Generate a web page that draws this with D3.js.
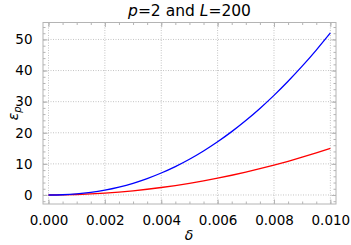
<!DOCTYPE html>
<html><head><meta charset="utf-8">
<script src="https://cdn.jsdelivr.net/npm/d3@7"></script>
<style>
body{margin:0;background:#fff;}
svg{display:block;font-family:"DejaVu Sans",sans-serif;}
</style></head>
<body><svg id="c" width="351" height="245"></svg>
<script>
const deltas = [0,0.0005,0.001,0.0015,0.002,0.0025,0.003,0.0035,0.004,0.0045,0.005,0.0055,0.006,0.0065,0.007,0.0075,0.008,0.0085,0.009,0.0095,0.01];
const blueVals = [0,0.08,0.34,0.83,1.56,2.54,3.77,5.28,7.07,9.14,11.5,14.16,17.11,20.37,23.94,27.83,32.03,36.56,41.41,46.59,52.1];
const redVals = [0,0.04,0.15,0.34,0.6,0.94,1.35,1.84,2.4,3.04,3.75,4.54,5.4,6.34,7.35,8.44,9.6,10.84,12.15,13.54,15.0];
const xTicks = [0,0.002,0.004,0.006,0.008,0.010];
const xTickLabels = ["0.000","0.002","0.004","0.006","0.008","0.010"];
const yTicks = [0,10,20,30,40,50];
const yTickLabels = ["0","10","20","30","40","50"];
const xMinor = d3.range(0,0.01001,0.0005);
const yMinor = d3.range(-2,55,2);

const L=43,R=336,T=22.5,B=204;
const svg = d3.select("#c");
const x = d3.scaleLinear().domain([-0.000195,0.0102]).range([L,R]);
const y = d3.scaleLinear().domain([-2.9,55.45]).range([B,T]);
const gridC="#c4c4c4", frameC="#b4b4b4";

// grid
svg.append("g").selectAll("line").data(xTicks).join("line")
  .attr("x1",d=>x(d)).attr("x2",d=>x(d)).attr("y1",T).attr("y2",B)
  .attr("stroke",gridC).attr("stroke-width",1).attr("stroke-dasharray","1,1.5");
svg.append("g").selectAll("line").data(yTicks).join("line")
  .attr("y1",d=>y(d)).attr("y2",d=>y(d)).attr("x1",L).attr("x2",R)
  .attr("stroke",gridC).attr("stroke-width",1).attr("stroke-dasharray","1,1.5");

function styleAxis(g){
  g.select(".domain").remove();
  g.selectAll("line").attr("stroke",frameC);
  g.selectAll("text").attr("fill","#000").attr("font-size","13.5px").attr("font-family","DejaVu Sans");
}
// minor ticks
const minorGroups = [
  [d3.axisBottom(x).tickValues(xMinor).tickSize(-2.5).tickFormat(""), `translate(0,${B})`],
  [d3.axisTop(x).tickValues(xMinor).tickSize(-2.5).tickFormat(""), `translate(0,${T})`],
  [d3.axisLeft(y).tickValues(yMinor).tickSize(-2.5).tickFormat(""), `translate(${L},0)`],
  [d3.axisRight(y).tickValues(yMinor).tickSize(-2.5).tickFormat(""), `translate(${R},0)`]
];
minorGroups.forEach(([ax,tr])=>svg.append("g").attr("transform",tr).call(ax).call(styleAxis));
// major ticks
svg.append("g").attr("transform",`translate(0,${B})`)
  .call(d3.axisBottom(x).tickValues(xTicks).tickSize(-4.5).tickPadding(11).tickFormat((d,i)=>xTickLabels[i]))
  .call(styleAxis);
svg.append("g").attr("transform",`translate(0,${T})`)
  .call(d3.axisTop(x).tickValues(xTicks).tickSize(-4.5).tickFormat("")).call(styleAxis);
svg.append("g").attr("transform",`translate(${L},0)`)
  .call(d3.axisLeft(y).tickValues(yTicks).tickSize(-4.5).tickPadding(10.5).tickFormat((d,i)=>yTickLabels[i]))
  .call(styleAxis);
svg.append("g").attr("transform",`translate(${R},0)`)
  .call(d3.axisRight(y).tickValues(yTicks).tickSize(-4.5).tickFormat("")).call(styleAxis);

// frame
svg.append("rect").attr("x",L).attr("y",T).attr("width",R-L).attr("height",B-T)
  .attr("fill","none").attr("stroke",frameC).attr("stroke-width",1);

// curves
const line = d3.line().x((d,i)=>x(deltas[i])).y(d=>y(d)).curve(d3.curveMonotoneX);
svg.append("path").datum(redVals).attr("d",line).attr("fill","none").attr("stroke","#ff0000").attr("stroke-width",1.3);
svg.append("path").datum(blueVals).attr("d",line).attr("fill","none").attr("stroke","#0000ff").attr("stroke-width",1.3);

// title
const title = svg.append("text").attr("x",(L+R)/2).attr("y",15.5).attr("text-anchor","middle")
  .attr("font-size","15.5px").attr("fill","#000");
title.append("tspan").attr("font-style","italic").text("p");
title.append("tspan").text("=2 and ");
title.append("tspan").attr("font-style","italic").text("L");
title.append("tspan").text("=200");

// x label
svg.append("text").attr("x",(L+R)/2-0.5).attr("y",240).attr("text-anchor","middle")
  .attr("font-size","14px").attr("font-style","italic").text("δ");
// y label
const yl = svg.append("text").attr("transform",`translate(18,${(T+B)/2}) rotate(-90)`)
  .attr("text-anchor","middle").attr("font-size","14px").attr("font-style","italic");
yl.append("tspan").text("ε");
yl.append("tspan").attr("font-size","10px").attr("dy","3").text("p");
</script></body></html>
